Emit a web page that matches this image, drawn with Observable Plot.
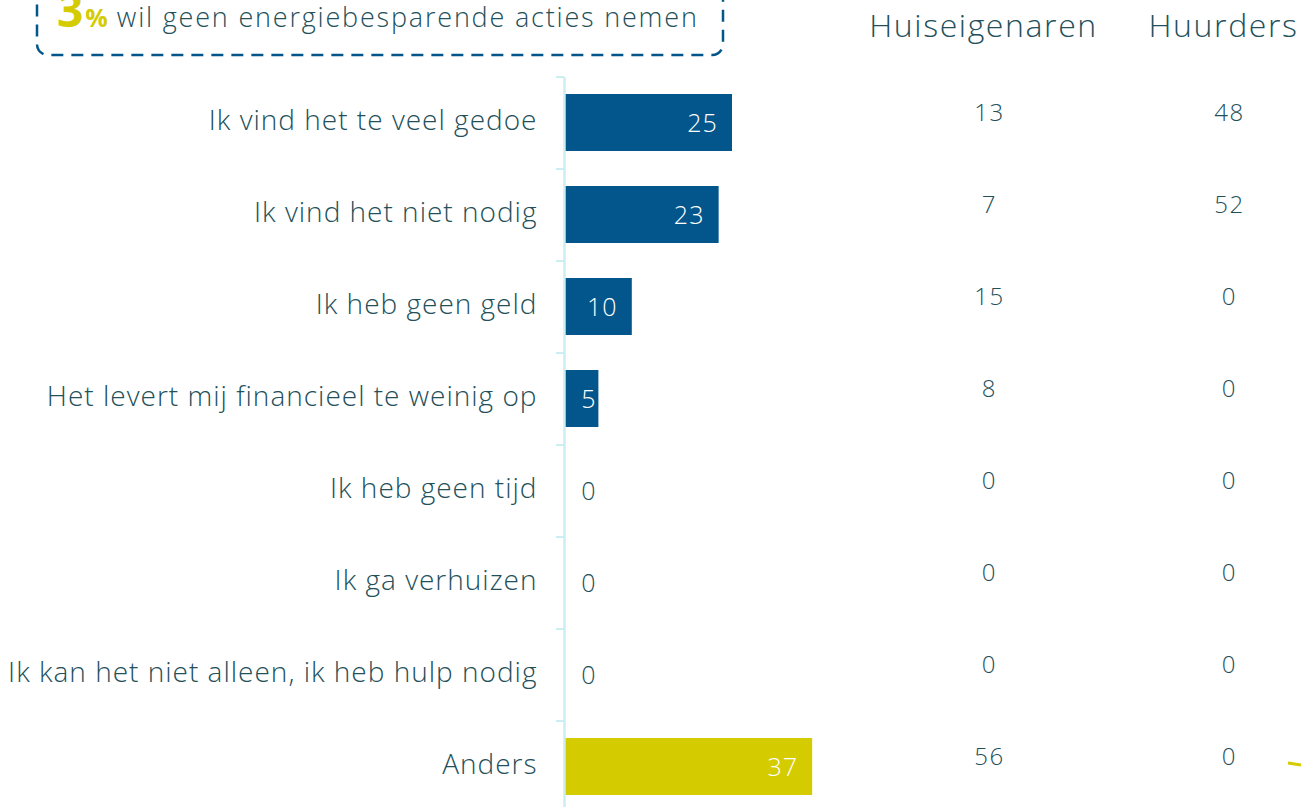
<!DOCTYPE html>
<html>
<head>
<meta charset="utf-8">
<script src="https://cdn.jsdelivr.net/npm/d3@7"></script>
<script src="https://cdn.jsdelivr.net/npm/@observablehq/plot@0.6"></script>
<style>
  html, body { margin: 0; padding: 0; background: #fff; overflow: hidden; }
  #wrap { position: relative; width: 1301px; height: 807px; overflow: hidden; font-family: "Open Sans", sans-serif; }
  #wrap > svg { position: absolute; left: 0; top: 0; }
</style>
</head>
<body>
<div id="wrap"></div>
<script>
// ---- data ----
const categories = [
  "Ik vind het te veel gedoe",
  "Ik vind het niet nodig",
  "Ik heb geen geld",
  "Het levert mij financieel te weinig op",
  "Ik heb geen tijd",
  "Ik ga verhuizen",
  "Ik kan het niet alleen, ik heb hulp nodig",
  "Anders"
];
const totals = [25, 23, 10, 5, 0, 0, 0, 37];
const huiseigenaren = [13, 7, 15, 8, 0, 0, 0, 56];
const huurders = [48, 52, 0, 0, 0, 0, 0, 0];
const columns = ["Huiseigenaren", "Huurders"];
const highlight = "Anders";
const headlineValue = "3";
const headlineText = "wil geen energiebesparende acties nemen";

// ---- styles ----
const dark = "#23505a";
const blue = "#03568b";
const yellow = "#d4cb00";
const axisColor = "#cdeef0";
const font = "'Open Sans', sans-serif";

const bars = categories.map((c, i) => ({category: c, value: totals[i], group: c === highlight ? "highlight" : "main"}));
const table = [];
categories.forEach((c, i) => {
  table.push({category: c, column: columns[0], value: huiseigenaren[i]});
  table.push({category: c, column: columns[1], value: huurders[i]});
});

const yScale = {type: "band", domain: categories, range: [77, 813], paddingInner: 0.38, paddingOuter: 0.19, axis: null};

const chart = Plot.plot({
  width: 1301,
  height: 807,
  marginTop: 77,
  marginBottom: 0,
  marginLeft: 565,
  marginRight: 0,
  style: {fontFamily: font, fontWeight: 300, color: dark, background: "transparent", overflow: "visible"},
  x: {domain: [0, 100], range: [565, 1233], axis: null},
  y: yScale,
  color: {domain: ["main", "highlight"], range: [blue, yellow]},
  marks: [
    Plot.barX(bars, {x: "value", y: "category", fill: "group"}),
    Plot.ruleX([0], {stroke: axisColor, strokeWidth: 2.5, dx: -1}),
    Plot.axisY({anchor: "left", label: null, tickSize: 8, stroke: axisColor, strokeWidth: 2, fill: "none", dy: -46, dx: -1}),
    Plot.axisY({anchor: "left", label: null, tickSize: 0, tickPadding: 28, fontSize: 28, fill: dark, fontWeight: 300, dy: -2}),
    Plot.text(bars.filter(d => d.value > 0), {
      x: d => Math.max(d.value, 8), y: "category", text: d => String(d.value),
      dx: -30, dy: 1, fill: "white", fontSize: 25, fontWeight: 300
    }),
    Plot.text(bars.filter(d => d.value === 0), {
      x: d => Math.max(d.value, 8), y: "category", text: d => String(d.value),
      dx: -30, dy: 1, fill: dark, fontSize: 25, fontWeight: 300
    })
  ]
});
chart.style.letterSpacing = "1px";

const tablePlot = Plot.plot({
  width: 1301,
  height: 807,
  marginTop: 77,
  marginBottom: 0,
  marginLeft: 866,
  marginRight: 0,
  style: {fontFamily: font, fontWeight: 300, color: dark, background: "transparent", overflow: "visible"},
  x: {type: "band", domain: columns, range: [866, 1346], padding: 0, axis: null},
  y: yScale,
  marks: [
    Plot.axisX({anchor: "top", label: null, tickSize: 0, tickPadding: 41, fontSize: 32, fill: dark, fontWeight: 300, dx: -3}),
    Plot.text(table, {x: "column", y: "category", text: d => String(d.value), dx: 3, dy: -10, fill: dark, fontSize: 24, fontWeight: 300})
  ]
});
tablePlot.style.letterSpacing = "1.6px";

const wrap = document.getElementById("wrap");
wrap.appendChild(tablePlot);
wrap.appendChild(chart);

// ---- callout box (annotation) ----
const ns = "http://www.w3.org/2000/svg";
const deco = document.createElementNS(ns, "svg");
deco.setAttribute("width", 1301);
deco.setAttribute("height", 807);
deco.style.pointerEvents = "none";
function el(tag, attrs, parent) {
  const e = document.createElementNS(ns, tag);
  for (const k in attrs) e.setAttribute(k, attrs[k]);
  parent.appendChild(e);
  return e;
}
el("rect", {x: 37, y: -40, width: 686, height: 95, rx: 11, fill: "none", stroke: blue,
  "stroke-width": 2.5, "stroke-dasharray": "12 8"}, deco);
el("path", {d: "M1288,763 L1301,765", stroke: yellow, "stroke-width": 3, fill: "none"}, deco);
const t = el("text", {x: 57, y: 27, "font-family": font, fill: dark}, deco);
const s1 = el("tspan", {"font-size": 46, "font-weight": 700, fill: yellow}, t);
s1.textContent = headlineValue;
const s2 = el("tspan", {"font-size": 25, "font-weight": 700, fill: yellow, dx: 2}, t);
s2.textContent = "%";
const s3 = el("tspan", {"font-size": 27, "font-weight": 300, dx: 9, "letter-spacing": 1.8}, t);
s3.textContent = headlineText;
wrap.appendChild(deco);
</script>
</body>
</html>
